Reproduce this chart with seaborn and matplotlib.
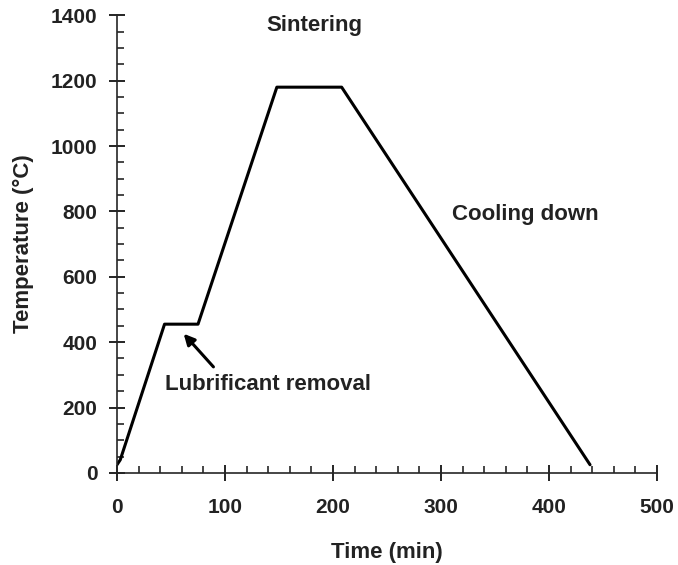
import pandas as pd
import matplotlib
matplotlib.use("Agg")
import matplotlib.pyplot as plt
import seaborn as sns
from matplotlib.ticker import MultipleLocator

# Sintering cycle profile
time_min = [0, 3, 44, 75, 148, 208, 438]
temp_c = [25, 40, 455, 455, 1180, 1180, 25]

df = pd.DataFrame({'Time (min)': time_min, 'Temperature': temp_c})

sns.set_style('ticks')
plt.rcParams['font.family'] = ['Liberation Sans', 'DejaVu Sans']
plt.rcParams['font.weight'] = 'bold'

fig = plt.figure(figsize=(6.78, 5.65), dpi=100)
ax = fig.add_axes([0.1726, 0.163, 0.7964, 0.81])

sns.lineplot(x='Time (min)', y='Temperature', data=df, ax=ax,
             color='black', linewidth=2.2, sort=False)

ax.set_xlim(0, 500)
ax.set_ylim(0, 1400)
ax.xaxis.set_major_locator(MultipleLocator(100))
ax.xaxis.set_minor_locator(MultipleLocator(20))
ax.yaxis.set_major_locator(MultipleLocator(200))
ax.yaxis.set_minor_locator(MultipleLocator(50))
ax.tick_params(which='major', direction='inout', length=12, width=1.2,
               labelsize=15, colors='black')
ax.tick_params(axis='x', which='major', pad=12)
ax.tick_params(axis='y', which='major', pad=8)
ax.tick_params(which='minor', direction='in', length=5, width=1.2)
for lbl in ax.get_xticklabels() + ax.get_yticklabels():
    lbl.set_fontweight('bold')
    lbl.set_color('#222222')

sns.despine(ax=ax)
ax.spines['left'].set_linewidth(1.2)
ax.spines['bottom'].set_linewidth(1.2)

ax.set_xlabel('Time (min)', fontsize=16, fontweight='bold', labelpad=18,
              color='#222222')
ax.set_ylabel('Temperature (°C)', fontsize=16, fontweight='bold', labelpad=12,
              color='#222222')

ax.text(183, 1370, 'Sintering', fontsize=16, fontweight='bold',
        ha='center', va='center', color='#222222')
ax.text(378, 790, 'Cooling down', fontsize=16, fontweight='bold',
        ha='center', va='center', color='#222222')
ax.text(140, 270, 'Lubrificant removal', fontsize=16, fontweight='bold',
        ha='center', va='center', color='#222222')
ax.annotate('', xy=(60, 432), xytext=(91, 318),
            arrowprops=dict(arrowstyle='-|>', color='black', lw=2.2,
                            mutation_scale=16))

fig.savefig('out.png', dpi=100)
